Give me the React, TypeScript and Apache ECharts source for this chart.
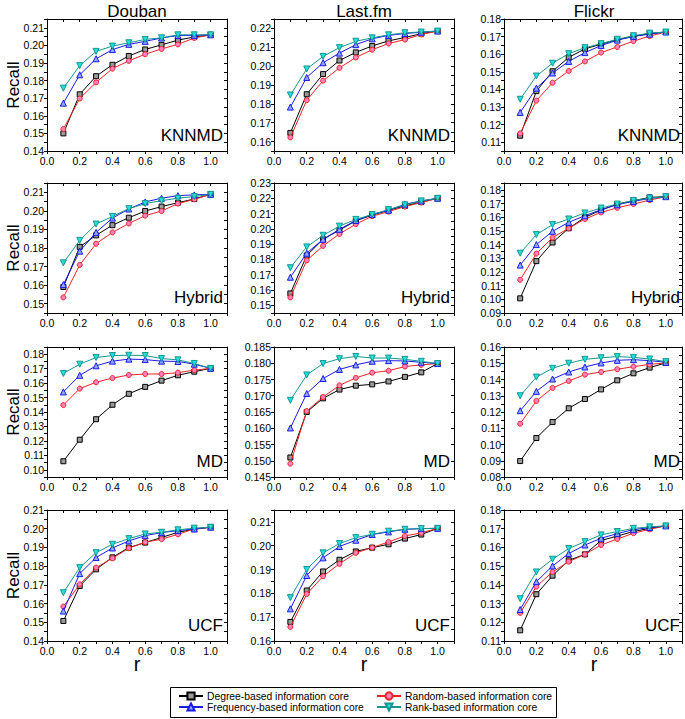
import React, { useEffect, useRef } from 'react';
import * as echarts from 'echarts';

// ---------------- data ----------------
const R_VALUES = [0.1, 0.2, 0.3, 0.4, 0.5, 0.6, 0.7, 0.8, 0.9, 1.0];
const DATASETS = ['Douban', 'Last.fm', 'Flickr'];
const METHODS = ['KNNMD', 'Hybrid', 'MD', 'UCF'];
const CORE_NAMES = [
  'Degree-based information core',
  'Random-based information core',
  'Frequency-based information core',
  'Rank-based information core',
];

// KNNMD
const doubanKNNMD = {
  degree: [0.150, 0.1722, 0.1825, 0.189, 0.194, 0.1977, 0.2003, 0.203, 0.2048, 0.206],
  random: [0.1525, 0.1698, 0.179, 0.1868, 0.1912, 0.195, 0.198, 0.2006, 0.2042, 0.206],
  frequency: [0.1672, 0.1833, 0.1924, 0.1976, 0.2006, 0.2023, 0.2042, 0.2056, 0.2057, 0.206],
  rank: [0.1757, 0.1885, 0.1966, 0.1996, 0.2015, 0.2034, 0.2043, 0.206, 0.206, 0.206],
};
const lastfmKNNMD = {
  degree: [0.1646, 0.1851, 0.1958, 0.203, 0.2073, 0.2107, 0.2134, 0.2152, 0.2172, 0.2186],
  random: [0.1622, 0.1819, 0.1923, 0.1991, 0.2046, 0.2087, 0.212, 0.2141, 0.2168, 0.2186],
  frequency: [0.1783, 0.194, 0.2018, 0.2069, 0.2114, 0.2145, 0.2163, 0.2173, 0.218, 0.2186],
  rank: [0.1847, 0.1985, 0.2052, 0.2098, 0.2132, 0.215, 0.2166, 0.2177, 0.2181, 0.2186],
};
const flickrKNNMD = {
  degree: [0.1137, 0.139, 0.1503, 0.1582, 0.163, 0.1657, 0.1682, 0.1701, 0.1718, 0.1726],
  random: [0.115, 0.1336, 0.1438, 0.1505, 0.1559, 0.1609, 0.1641, 0.1674, 0.1703, 0.1726],
  frequency: [0.1269, 0.1407, 0.1493, 0.1559, 0.1609, 0.1649, 0.168, 0.1701, 0.1714, 0.1726],
  rank: [0.1344, 0.1476, 0.1549, 0.1603, 0.1637, 0.166, 0.1685, 0.1705, 0.172, 0.1726],
};
// Hybrid
const doubanHybrid = {
  degree: [0.159, 0.1806, 0.1868, 0.1923, 0.1963, 0.1999, 0.2023, 0.2044, 0.2064, 0.2089],
  random: [0.1534, 0.1709, 0.1823, 0.1884, 0.1932, 0.1974, 0.1999, 0.2039, 0.2062, 0.2089],
  frequency: [0.1603, 0.1783, 0.1884, 0.1961, 0.201, 0.2048, 0.2068, 0.2082, 0.2086, 0.2089],
  rank: [0.172, 0.1841, 0.1929, 0.197, 0.2012, 0.2039, 0.2055, 0.2068, 0.2077, 0.2089],
};
const lastfmHybrid = {
  degree: [0.1578, 0.1826, 0.1932, 0.1992, 0.2053, 0.209, 0.2122, 0.215, 0.2176, 0.22],
  random: [0.1552, 0.1794, 0.1889, 0.1967, 0.2031, 0.2083, 0.2113, 0.2146, 0.2172, 0.22],
  frequency: [0.1684, 0.1841, 0.1932, 0.1997, 0.2055, 0.2094, 0.2122, 0.2161, 0.2183, 0.22],
  rank: [0.1746, 0.1882, 0.1958, 0.2018, 0.2062, 0.2094, 0.2126, 0.2157, 0.2183, 0.22],
};
const flickrHybrid = {
  degree: [0.1007, 0.1279, 0.1415, 0.1519, 0.1599, 0.1652, 0.1696, 0.172, 0.1745, 0.175],
  random: [0.1143, 0.1334, 0.1451, 0.1519, 0.1587, 0.1635, 0.1669, 0.1696, 0.1725, 0.175],
  frequency: [0.125, 0.14, 0.1497, 0.1563, 0.1611, 0.1655, 0.1691, 0.1716, 0.1737, 0.175],
  rank: [0.1337, 0.1473, 0.1546, 0.1587, 0.1631, 0.1667, 0.1696, 0.1723, 0.174, 0.175],
};
// MD
const doubanMD = {
  degree: [0.1059, 0.1208, 0.135, 0.145, 0.1526, 0.1574, 0.1617, 0.1654, 0.1679, 0.1702],
  random: [0.1448, 0.1562, 0.1606, 0.1635, 0.1656, 0.1663, 0.1663, 0.1672, 0.169, 0.1702],
  frequency: [0.1539, 0.1654, 0.172, 0.1752, 0.1766, 0.1763, 0.1752, 0.175, 0.1731, 0.1702],
  rank: [0.1667, 0.1731, 0.1777, 0.1791, 0.1793, 0.1791, 0.177, 0.1761, 0.1736, 0.1702],
};
const lastfmMD = {
  degree: [0.151, 0.165, 0.1692, 0.1719, 0.1731, 0.1735, 0.1744, 0.1758, 0.1772, 0.1799],
  random: [0.1491, 0.1653, 0.1696, 0.1732, 0.1755, 0.1771, 0.1777, 0.179, 0.1795, 0.1799],
  frequency: [0.1601, 0.1707, 0.1753, 0.1781, 0.1795, 0.1806, 0.1808, 0.1807, 0.1803, 0.1799],
  rank: [0.1686, 0.1764, 0.1799, 0.1814, 0.1821, 0.1816, 0.1816, 0.1812, 0.1806, 0.1799],
};
const flickrMD = {
  degree: [0.0898, 0.104, 0.1138, 0.1223, 0.128, 0.1339, 0.1395, 0.1438, 0.1473, 0.1502],
  random: [0.1128, 0.1268, 0.1348, 0.1391, 0.143, 0.1446, 0.1463, 0.1479, 0.1493, 0.1502],
  frequency: [0.1208, 0.1327, 0.1403, 0.1446, 0.1477, 0.1502, 0.1518, 0.1522, 0.1516, 0.1506],
  rank: [0.130, 0.1415, 0.1469, 0.15, 0.1524, 0.1534, 0.1541, 0.1536, 0.1526, 0.151],
};
// UCF
const doubanUCF = {
  degree: [0.1507, 0.1694, 0.1783, 0.1847, 0.1899, 0.1926, 0.1953, 0.1981, 0.1997, 0.2008],
  random: [0.1584, 0.1703, 0.1792, 0.1842, 0.1896, 0.1928, 0.1944, 0.197, 0.1999, 0.2008],
  frequency: [0.156, 0.176, 0.1846, 0.1897, 0.1935, 0.1963, 0.1979, 0.199, 0.1999, 0.2008],
  rank: [0.1658, 0.1792, 0.1872, 0.1917, 0.1947, 0.1972, 0.1981, 0.1994, 0.2003, 0.2008],
};
const lastfmUCF = {
  degree: [0.168, 0.1812, 0.1892, 0.1941, 0.1976, 0.1992, 0.2006, 0.203, 0.2047, 0.2073],
  random: [0.1659, 0.1797, 0.1872, 0.1924, 0.197, 0.1992, 0.2016, 0.2041, 0.2054, 0.2073],
  frequency: [0.1735, 0.1875, 0.1949, 0.1997, 0.2023, 0.2047, 0.2058, 0.2069, 0.2072, 0.2073],
  rank: [0.1782, 0.19, 0.197, 0.2009, 0.2034, 0.2048, 0.2061, 0.2069, 0.2072, 0.2073],
};
const flickrUCF = {
  degree: [0.1157, 0.135, 0.1449, 0.1531, 0.1563, 0.1637, 0.1661, 0.1685, 0.1702, 0.1715],
  random: [0.125, 0.1391, 0.1469, 0.1524, 0.1563, 0.1613, 0.1645, 0.1676, 0.1697, 0.1715],
  frequency: [0.1268, 0.1417, 0.1501, 0.1567, 0.1613, 0.1649, 0.1674, 0.1695, 0.1706, 0.1715],
  rank: [0.1326, 0.1469, 0.1537, 0.1594, 0.1631, 0.1667, 0.1685, 0.1702, 0.171, 0.1715],
};

const PANELS = [
  [doubanKNNMD, lastfmKNNMD, flickrKNNMD],
  [doubanHybrid, lastfmHybrid, flickrHybrid],
  [doubanMD, lastfmMD, flickrMD],
  [doubanUCF, lastfmUCF, flickrUCF],
];

// y-axis ranges: [min, max, tickStep, labelStep, decimals]
const Y_RANGES = [
  [[0.14, 0.215, 0.005, 0.01, 2], [0.155, 0.225, 0.005, 0.01, 2], [0.105, 0.18, 0.005, 0.01, 2]],
  [[0.145, 0.215, 0.005, 0.01, 2], [0.145, 0.23, 0.005, 0.01, 2], [0.09, 0.185, 0.005, 0.01, 2]],
  [[0.095, 0.185, 0.005, 0.01, 2], [0.145, 0.185, 0.005, 0.005, 3], [0.08, 0.16, 0.005, 0.01, 2]],
  [[0.14, 0.21, 0.005, 0.01, 2], [0.16, 0.215, 0.005, 0.01, 2], [0.11, 0.18, 0.005, 0.01, 2]],
];

// ---------------- styles / layout ----------------
const FONT = 'Liberation Sans, Arial, Helvetica, sans-serif';
const GRID_LEFT = [47, 274, 504];
const GRID_WIDTH = 180;
const GRID_TOP = [19, 183, 347, 510];
const GRID_HEIGHT = [132, 130, 130, 131];

const SERIES_KEYS = ['degree', 'random', 'frequency', 'rank'];
const SERIES_STYLE = [
  { line: '#000000', fill: '#9a9a9a', symbol: 'rect', rotate: 0, size: 5 },
  { line: '#ee2424', fill: '#ff80c0', symbol: 'circle', rotate: 0, size: 5 },
  { line: '#1a1aee', fill: '#8fa8ff', symbol: 'triangle', rotate: 0, size: 6 },
  { line: '#16968f', fill: '#22e0e0', symbol: 'triangle', rotate: 180, size: 6 },
];

function labelFormatter(labelStep: number, decimals: number) {
  return (v: number) => {
    const k = Math.round(v / labelStep);
    if (Math.abs(v - k * labelStep) < 1e-7) return v.toFixed(decimals);
    return '';
  };
}

function buildOption() {
  const grid: any[] = [];
  const xAxis: any[] = [];
  const yAxis: any[] = [];
  const series: any[] = [];
  const graphic: any[] = [];

  const axisLine = { show: true, onZero: false, lineStyle: { color: '#000', width: 1 } };

  for (let row = 0; row < 4; row++) {
    for (let col = 0; col < 3; col++) {
      const gi = grid.length;
      const left = GRID_LEFT[col];
      const top = GRID_TOP[row];
      const h = GRID_HEIGHT[row];
      grid.push({ left, top, width: GRID_WIDTH, height: h, containLabel: false });

      const xBase = {
        type: 'value', gridIndex: gi, min: 0, max: 1.1, interval: 0.1,
        axisLine, splitLine: { show: false },
      };
      const xi = xAxis.length;
      xAxis.push({
        ...xBase, position: 'bottom',
        axisTick: { show: true, inside: false, length: 3, lineStyle: { color: '#000' } },
        axisLabel: {
          show: true, fontSize: 10.5, color: '#000', fontFamily: FONT, margin: 4,
          formatter: labelFormatter(0.2, 1),
        },
      });
      xAxis.push({
        ...xBase, position: 'top',
        axisTick: { show: true, inside: true, length: 3, lineStyle: { color: '#000' } },
        axisLabel: { show: false },
      });

      const [ymin, ymax, ystep, lstep, dec] = Y_RANGES[row][col] as number[];
      const yBase = {
        type: 'value', gridIndex: gi, min: ymin, max: ymax, interval: ystep,
        axisLine, splitLine: { show: false },
      };
      const yi = yAxis.length;
      yAxis.push({
        ...yBase, position: 'left',
        axisTick: { show: true, inside: false, length: 3, lineStyle: { color: '#000' } },
        axisLabel: {
          show: true, fontSize: 10.5, color: '#000', fontFamily: FONT, margin: 3,
          formatter: labelFormatter(lstep, dec),
        },
      });
      yAxis.push({
        ...yBase, position: 'right',
        axisTick: { show: true, inside: true, length: 3, lineStyle: { color: '#000' } },
        axisLabel: { show: false },
      });

      const panel: any = PANELS[row][col];
      SERIES_KEYS.forEach((key, si) => {
        const st = SERIES_STYLE[si];
        series.push({
          type: 'line',
          name: CORE_NAMES[si],
          xAxisIndex: xi,
          yAxisIndex: yi,
          data: R_VALUES.map((r, i) => [r, panel[key][i]]),
          symbol: st.symbol,
          symbolRotate: st.rotate,
          symbolSize: st.size,
          showAllSymbol: true,
          lineStyle: { color: st.line, width: 1 },
          itemStyle: { color: st.fill, borderColor: st.line, borderWidth: 1 },
          z: 2 + si,
          silent: true,
        });
      });

      graphic.push({
        type: 'text',
        x: left + GRID_WIDTH - 4,
        y: top + h - 16,
        style: {
          text: METHODS[row], fontSize: 17, fontFamily: FONT, fill: '#000',
          textAlign: 'right', textVerticalAlign: 'middle',
        },
      });
    }
    graphic.push({
      type: 'text',
      x: 13,
      y: GRID_TOP[row] + GRID_HEIGHT[row] / 2,
      rotation: Math.PI / 2,
      style: {
        text: 'Recall', fontSize: 17, fontFamily: FONT, fill: '#000',
        textAlign: 'center', textVerticalAlign: 'middle',
      },
    });
  }

  for (let col = 0; col < 3; col++) {
    const cx = GRID_LEFT[col] + GRID_WIDTH / 2;
    graphic.push({
      type: 'text', x: cx, y: 11,
      style: {
        text: DATASETS[col], fontSize: 17, fontFamily: FONT, fill: '#000',
        textAlign: 'center', textVerticalAlign: 'middle',
      },
    });
    graphic.push({
      type: 'text', x: cx, y: 664,
      style: {
        text: 'r', fontSize: 20, fontFamily: FONT, fill: '#000',
        textAlign: 'center', textVerticalAlign: 'middle',
      },
    });
  }

  graphic.push({
    type: 'rect',
    shape: { x: 170.5, y: 687.5, width: 386, height: 30 },
    style: { fill: 'none', stroke: '#000', lineWidth: 1 },
    z: 0,
  });

  const legendCommon = {
    orient: 'vertical',
    top: 691,
    itemWidth: 24,
    itemHeight: 9,
    itemGap: 1,
    padding: 0,
    selectedMode: false,
    textStyle: { fontSize: 10.3, fontFamily: FONT, color: '#000', padding: [0, 0, 0, -1] },
  };

  return {
    animation: false,
    backgroundColor: '#fff',
    textStyle: { fontFamily: FONT },
    grid,
    xAxis,
    yAxis,
    series,
    graphic,
    legend: [
      { ...legendCommon, left: 178, data: [CORE_NAMES[0], CORE_NAMES[2]] },
      { ...legendCommon, left: 376, data: [CORE_NAMES[1], CORE_NAMES[3]] },
    ],
  };
}

export default function App() {
  const ref = useRef<HTMLDivElement>(null);
  useEffect(() => {
    if (!ref.current) return;
    const chart = echarts.init(ref.current, undefined, { renderer: 'svg' });
    chart.setOption(buildOption() as any);
    return () => chart.dispose();
  }, []);
  return (
    <div
      ref={ref}
      style={{ position: 'absolute', left: 0, top: 0, width: 685, height: 719, background: '#fff' }}
    />
  );
}
